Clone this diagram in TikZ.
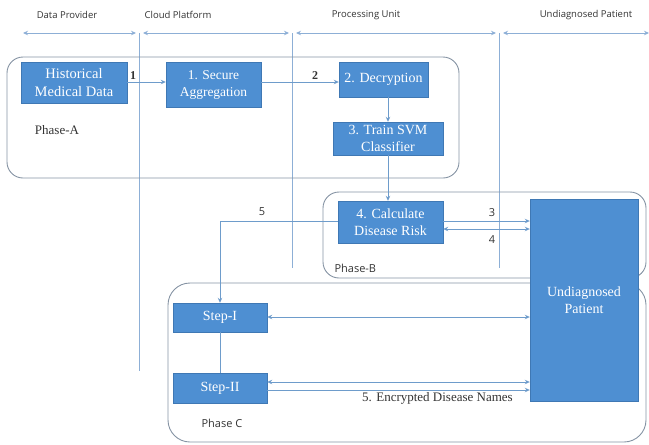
\documentclass[tikz,border=0pt]{standalone}
\usepackage{fontspec}
\setmainfont{Liberation Serif}
\newfontfamily\labelfont{Open Sans}
\usetikzlibrary{arrows.meta,calc}

\definecolor{boxfill}{HTML}{4E8FD2}
\definecolor{boxedge}{HTML}{3F78B4}
\definecolor{wire}{HTML}{6E9CCB}
\definecolor{lane}{HTML}{8DAFD6}
\definecolor{phaseedge}{HTML}{8593A3}
\definecolor{txt}{HTML}{333333}

\tikzset{
  proc/.style={draw=boxedge, fill=boxfill, text=white, align=center,
    inner sep=1pt, font=\fontsize{14}{17}\selectfont},
  wireline/.style={draw=wire, line width=0.9pt},
  tip/.style={-{Stealth[length=5pt,width=4.5pt]}},
  twotip/.style={{Stealth[length=5pt,width=4.5pt]}-{Stealth[length=5pt,width=4.5pt]}},
  laneline/.style={draw=lane, line width=0.9pt},
  phasebox/.style={draw=phaseedge, line width=0.9pt, rounded corners=16pt},
  head/.style={font=\labelfont\fontsize{9.5}{11}\selectfont, text=txt},
  num/.style={font=\labelfont\fontsize{11}{13}\selectfont, text=txt},
  phasetag/.style={font=\labelfont\fontsize{11}{13}\selectfont, text=txt},
  serifnum/.style={font=\bfseries\fontsize{12}{14}\selectfont, text=txt},
}

\begin{document}
\begin{tikzpicture}[x=1pt,y=-1pt]
\useasboundingbox (0,0) rectangle (649,445);

% lane headings
\node[head] (hDP) at (67,15) {Data Provider};
\node[head] (hCP) at (178,15) {Cloud Platform};
\node[head] (hPU) at (366,15) {Processing Unit};
\node[head] (hUP) at (586,15) {Undiagnosed Patient};

% lane extents
\coordinate (l0) at (23,33);
\coordinate (l1a) at (136,33);
\coordinate (l1b) at (143,33);
\coordinate (l2a) at (289,33);
\coordinate (l2b) at (296,33);
\coordinate (l3a) at (496,33);
\coordinate (l3b) at (503,33);
\coordinate (l4) at (649,33);
\draw[laneline,twotip] (l0) -- (l1a);
\draw[laneline,twotip] (l1b) -- (l2a);
\draw[laneline,twotip] (l2b) -- (l3a);
\draw[laneline,twotip] (l3b) -- (l4);

% lane separators
\coordinate (s1) at (139.5,33);
\coordinate (s1e) at (139.5,371);
\coordinate (s2) at (292.5,33);
\coordinate (s2e) at (292.5,268);
\coordinate (s3) at (499.5,33);
\coordinate (s3e) at (499.5,268);
\draw[laneline] (s1) -- (s1e);
\draw[laneline] (s2) -- (s2e);
\draw[laneline] (s3) -- (s3e);

% phase frames
\draw[phasebox] (7,57) rectangle (459,178);
\draw[phasebox] (323,192) rectangle (646,278);
\draw[phasebox, rounded corners=22pt] (168,283) rectangle (646,442);

\node[font=\fontsize{13}{15}\selectfont, text=txt] (pA) at (57,130) {Phase-A};
\node[phasetag, anchor=west] (pB) at (331,268) {Phase-B};
\node[phasetag, anchor=west] (pC) at (198,423) {Phase C};

% process boxes
\node[proc, minimum width=106pt, minimum height=41pt, font=\fontsize{14.5}{17.5}\selectfont] (hist) at (74,82.5) {Historical\\Medical Data};
\node[proc, minimum width=95pt, minimum height=45pt, font=\fontsize{13.5}{17}\selectfont] (agg) at (213.5,84.5) {1. Secure\\Aggregation};
\node[proc, minimum width=89pt, minimum height=35pt] (dec) at (383.5,79.5) {2. Decryption};
\node[proc, minimum width=110pt, minimum height=33pt] (svm) at (388,138.5) {3. Train SVM\\Classifier};
\node[proc, minimum width=105pt, minimum height=42pt] (risk) at (390.5,222) {4. Calculate\\Disease Risk};
\node[proc, minimum width=108pt, minimum height=202pt] (pat) at (584,300) {Undiagnosed\\Patient};
\node[proc, minimum width=94pt, minimum height=29pt] (s1box) at (220,317.5) {Step-I};
\node[proc, minimum width=94pt, minimum height=30pt] (s2box) at (220,388) {Step-II};

% phase A flow
\draw[wireline,tip] (hist.east |- 0,82) -- (agg.west |- 0,82);
\node[serifnum] (n1) at (133,76) {1};
\draw[wireline,tip] (agg.east |- 0,82) -- (dec.west |- 0,82);
\node[serifnum] (n2) at (315,76) {2};
\draw[wireline,tip] (dec.south -| svm.north) -- (svm.north);
\draw[wireline,tip] (svm.south) -- (risk.north -| svm.south);

% phase B exchanges
\draw[wireline,tip] (risk.east |- 0,221) -- (pat.west |- 0,221);
\draw[wireline,twotip] (risk.east |- 0,229) -- (pat.west |- 0,229);
\node[num] (n3) at (492,213) {3};
\node[num] (n4) at (492,240) {4};
\draw[wireline,tip] (risk.west |- 0,221) -| (s1box.north);
\node[num] (n5) at (262,212) {5};

% phase C exchanges
\draw[wireline] (s1box.south) -- (s2box.north);
\draw[wireline,twotip] (s1box.east |- 0,317) -- (pat.west |- 0,317);
\draw[wireline,twotip] (s2box.east |- 0,382) -- (pat.west |- 0,382);
\draw[wireline,tip] (s2box.east |- 0,390) -- (pat.west |- 0,390);
\node[font=\fontsize{13}{15}\selectfont, text=txt] (enc) at (437.5,398) {5. Encrypted Disease Names};
\end{tikzpicture}
\end{document}
